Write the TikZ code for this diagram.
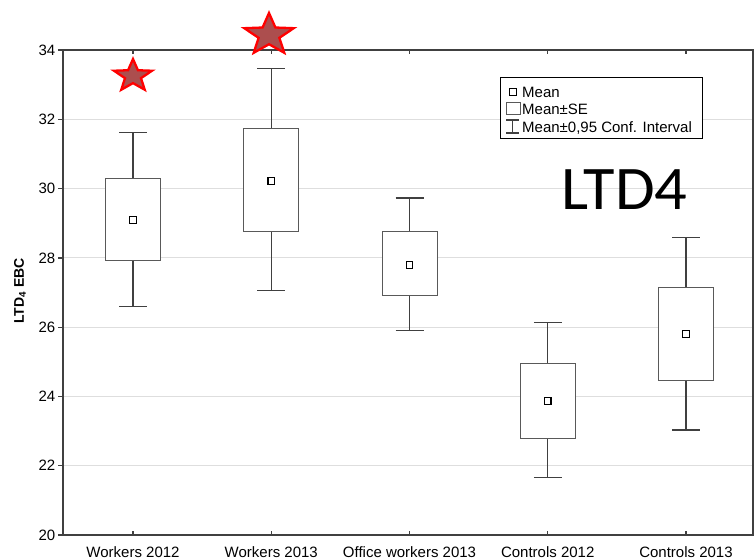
\documentclass[tikz,border=0pt]{standalone}
\usepackage{fontspec}
\setmainfont{Liberation Sans}
\newfontfamily\bigfont{Carlito}

\begin{document}
\begin{tikzpicture}[x=1pt,y=1pt,
  axisline/.style={line width=1.3pt, color=black!75},
  gridline/.style={line width=0.9pt, color=black!13},
  whisker/.style={line width=1.3pt, color=black!75},
  sebox/.style={draw=black!65, line width=1pt, fill=white},
  meanmark/.style={draw=black, line width=1.1pt, fill=white, minimum size=6.5pt, inner sep=0pt},
  txt/.style={font=\fontsize{15}{18}\selectfont, inner sep=0pt},
  signif/.style={draw=red, fill={rgb,255:red,172;green,78;blue,78}, line width=2.3pt}]

\useasboundingbox (0,0) rectangle (754,559);

% data part: y in LTD4 units
\begin{scope}[shift={(0pt,-668.8pt)}, y=34.64pt]

\foreach \v in {22,24,...,32}
  \draw [gridline] (63,\v) -- (753,\v);

\foreach \v in {20,22,...,34} {
  \draw [axisline] (58,\v) -- (63,\v);
  \node [txt, anchor=east] (ylab\v) at (55.5,\v) {\v};
}

\draw [axisline] (63,20) rectangle (753,34);

% x, whisker low, box low, mean, box high, whisker high
\foreach \x/\wl/\bl/\m/\bh/\wh [count=\i] in
  {133/26.6/27.93/29.09/30.3/31.62,
   271.25/27.05/28.75/30.22/31.73/33.47,
   409.5/25.9/26.9/27.8/28.75/29.73,
   547.75/21.65/22.8/23.87/24.95/26.13,
   686/23.03/24.45/25.8/27.15/28.58} {
  \draw [whisker] (\x,\wl) -- (\x,\wh);
  \draw [whisker] (\x-14,\wl) -- (\x+14,\wl);
  \draw [whisker] (\x-14,\wh) -- (\x+14,\wh);
  \draw [sebox] (\x-27.5,\bl) rectangle (\x+27.5,\bh);
  \node [meanmark] (mean\i) at (\x,\m) {};
}

\end{scope}

% ticks on bottom and top
\foreach \x in {133,271.25,409.5,547.75,686} {
  \draw [axisline] (\x,24) -- (\x,28);
  \draw [axisline] (\x,509) -- (\x,505);
}

\node [txt, anchor=base] (g1) at (133,2) {Workers 2012};
\node [txt, anchor=base] (g2) at (271.25,2) {Workers 2013};
\node [txt, anchor=base] (g3) at (409.5,2) {Office workers 2013};
\node [txt, anchor=base] (g4) at (547.75,2) {Controls 2012};
\node [txt, anchor=base] (g5) at (686,2) {Controls 2013};

\node [rotate=90, font=\bfseries\fontsize{14}{16}\selectfont, inner sep=0pt] (ylabel) at (20,268) {LTD\textsubscript{4} EBC};

% legend
\draw [line width=1pt, fill=white] (500,420) rectangle (702,481);
\node [meanmark] (legmean) at (513,467) {};
\draw [sebox] (506,444) rectangle (520,456);
\draw [whisker] (512.5,426) -- (512.5,439);
\draw [whisker] (506,439) -- (519,439);
\draw [whisker] (506,426) -- (519,426);
\node [txt, anchor=base west] (l1) at (522,461.5) {Mean};
\node [txt, anchor=base west] (l2) at (522,444.5) {Mean±SE};
\node [txt, anchor=base west] (l3) at (522,426.5) {Mean±0,95 Conf. Interval};

\node [font=\bigfont\fontsize{62}{72}\selectfont, inner sep=0pt, anchor=base, xscale=1.04] (title) at (624.5,349) {LTD4};

% significance stars
\draw [signif, shift={(133,483)}, x=20pt, y=17pt] (90:1)
  \foreach \k in {1,...,9} { -- ({90+36*\k}:{1-0.58*mod(\k,2)}) } -- cycle;
\draw [signif, shift={(269,524)}, x=26pt, y=22pt] (90:1)
  \foreach \k in {1,...,9} { -- ({90+36*\k}:{1-0.58*mod(\k,2)}) } -- cycle;

\end{tikzpicture}
\end{document}
